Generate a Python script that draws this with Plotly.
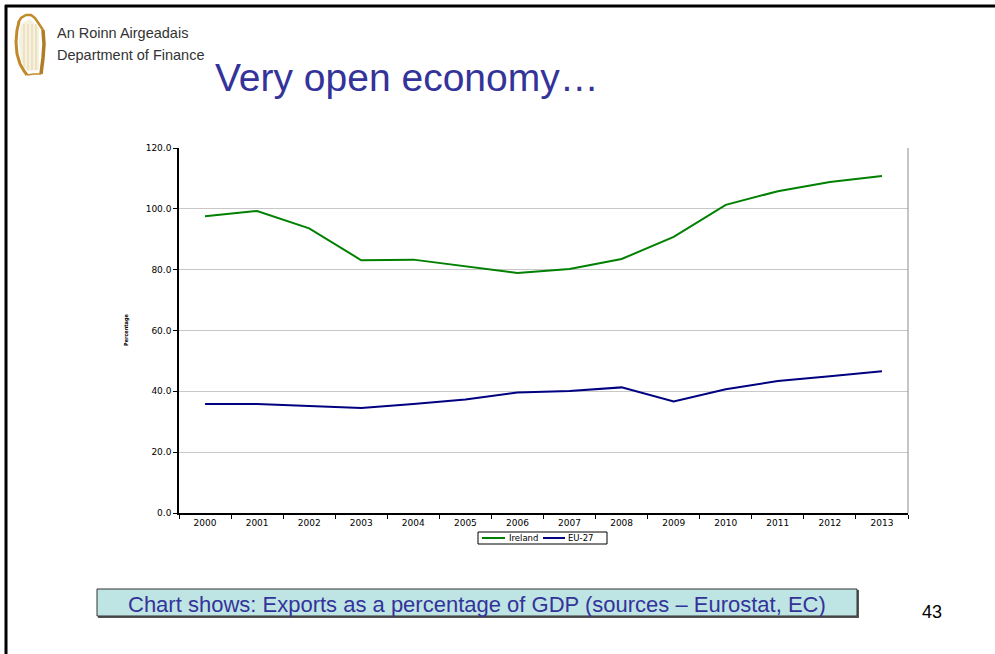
import plotly.graph_objects as go

# Exports as a percentage of GDP
years = ["2000", "2001", "2002", "2003", "2004", "2005", "2006",
         "2007", "2008", "2009", "2010", "2011", "2012", "2013"]
ireland = [97.6, 99.3, 93.6, 83.1, 83.3, 81.2, 78.9,
           80.2, 83.5, 90.8, 101.3, 105.8, 108.8, 110.8]
eu27 = [35.8, 35.8, 35.2, 34.5, 35.8, 37.3, 39.6,
        40.1, 41.3, 36.7, 40.7, 43.4, 45.0, 46.6]
y_ticks = [0, 20, 40, 60, 80, 100, 120]
series_names = ["Ireland", "EU-27"]
series_colors = ["#008000", "#000080"]

W, H = 995, 654
L, R, T, B = 179, 908, 148, 513


def px(x):
    return (x - L) / (R - L)


def py(y):
    return (B - y) / (B - T)


def path(points, close=False):
    d = "M " + " L ".join(f"{px(x):.5f},{py(y):.5f}" for x, y in points)
    return d + (" Z" if close else "")


def paper_shape(**kw):
    return dict(xref="paper", yref="paper", **kw)


def paper_text(text, x, y, font, xanchor="left", **kw):
    return dict(text=text, x=px(x), y=py(y), xref="paper", yref="paper",
                xanchor=xanchor, yanchor="middle", showarrow=False,
                font=font, **kw)


fig = go.Figure()
for name, vals, col in zip(series_names, [ireland, eu27], series_colors):
    fig.add_trace(go.Scatter(x=years, y=vals, name=name, mode="lines",
                             line=dict(color=col, width=2),
                             showlegend=False))

gold = "#c08a2a"
shapes = []
# slide frame (top and left edges)
shapes.append(paper_shape(type="line", x0=px(5), y0=py(6), x1=px(995),
                          y1=py(6), line=dict(color="black", width=3)))
shapes.append(paper_shape(type="line", x0=px(6), y0=py(5), x1=px(6),
                          y1=py(654), line=dict(color="black", width=3)))
# right border of the plot area
shapes.append(paper_shape(type="line", x0=1, y0=0, x1=1, y1=1,
                          line=dict(color="#8c8c8c", width=1)))

# harp emblem
shapes.append(paper_shape(type="path",
                          path=path([(21, 24), (30, 19), (39, 28), (39, 70),
                                     (27, 71), (21, 60), (19, 42)],
                                    close=True),
                          fillcolor="#f6f0de", line=dict(width=0)))
for sx in [24, 28, 32, 36]:
    shapes.append(paper_shape(type="line", x0=px(sx), y0=py(24),
                              x1=px(sx), y1=py(70),
                              line=dict(color="#e3d3a8", width=1)))
shapes.append(paper_shape(type="path",
                          path=path([(18, 23), (21, 18), (26, 15), (31, 15),
                                     (35, 18), (39, 24), (43, 30)]),
                          line=dict(color=gold, width=2.5)))
shapes.append(paper_shape(type="path",
                          path=path([(19, 22), (17, 30), (16, 42), (17, 54),
                                     (20, 64), (24, 71), (27, 75)]),
                          line=dict(color=gold, width=3)))
shapes.append(paper_shape(type="path",
                          path=path([(43, 30), (44, 44), (43, 58), (41, 74)]),
                          line=dict(color="#b07d24", width=3.5)))
shapes.append(paper_shape(type="path",
                          path=path([(27, 75), (34, 74), (41, 74)]),
                          line=dict(color=gold, width=1.5)))

# legend box with line samples
shapes.append(paper_shape(type="rect", x0=px(478), y0=py(532), x1=px(607),
                          y1=py(544), fillcolor="white",
                          line=dict(color="black", width=1)))
legend_samples = [(482, 505), (543, 565)]
for (x0, x1), col in zip(legend_samples, series_colors):
    shapes.append(paper_shape(type="line", x0=px(x0), y0=py(538), x1=px(x1),
                              y1=py(538), line=dict(color=col, width=2)))

# caption box with shadow
shapes.append(paper_shape(type="rect", x0=px(98), y0=py(590), x1=px(859),
                          y1=py(618), fillcolor="#555555",
                          line=dict(width=0)))
shapes.append(paper_shape(type="rect", x0=px(97), y0=py(589), x1=px(857),
                          y1=py(616), fillcolor="#bfe4e4",
                          line=dict(color="#333333", width=1)))

narrow = dict(family="Liberation Sans Narrow, Arial Narrow, Liberation Sans",
              size=14.5, color="#333333")
legend_font = dict(family="DejaVu Sans, sans-serif", size=8.5, color="black")
annotations = [
    paper_text("An Roinn Airgeadais", 55, 33, narrow),
    paper_text("Department of Finance", 55, 55, narrow),
    paper_text("Very open economy…", 213, 78,
               dict(family="Liberation Sans, Arial, sans-serif", size=39,
                    color="#333399")),
    paper_text("<b>Percentage</b>", 126, 330,
               dict(family="DejaVu Sans Condensed, DejaVu Sans", size=5.5,
                    color="black"), xanchor="center", textangle=-90),
    paper_text(series_names[0], 507, 538, legend_font),
    paper_text(series_names[1], 566, 538, legend_font),
    paper_text("Chart shows: Exports as a percentage of GDP (sources – Eurostat, EC)",
               477, 604,
               dict(family="Liberation Sans, Arial, sans-serif", size=22,
                    color="#333399"), xanchor="center"),
    paper_text("43", 932, 612,
               dict(family="Liberation Sans, Arial, sans-serif", size=18,
                    color="black"), xanchor="center"),
]

axis_font = dict(family="DejaVu Sans, sans-serif", size=9, color="black")

fig.update_layout(
    width=W, height=H,
    margin=dict(l=L, r=W - R, t=T, b=H - B, pad=0),
    paper_bgcolor="white", plot_bgcolor="white",
    shapes=shapes, annotations=annotations,
    showlegend=False,
    xaxis=dict(type="category", tickson="boundaries", ticks="outside",
               ticklen=4, tickcolor="black", tickwidth=1,
               showline=True, linecolor="black", linewidth=1.5,
               showgrid=False, zeroline=False, tickfont=axis_font,
               range=[-0.5, 13.5]),
    yaxis=dict(range=[0, 120], tickvals=y_ticks, tickformat=".1f",
               ticks="outside", ticklen=4, tickcolor="black", tickwidth=1,
               showline=True, linecolor="black", linewidth=1.5,
               showgrid=True, gridcolor="#c8c8c8", gridwidth=1,
               zeroline=False, tickfont=axis_font),
)

fig.write_html("out.html", config=dict(displayModeBar=False))
